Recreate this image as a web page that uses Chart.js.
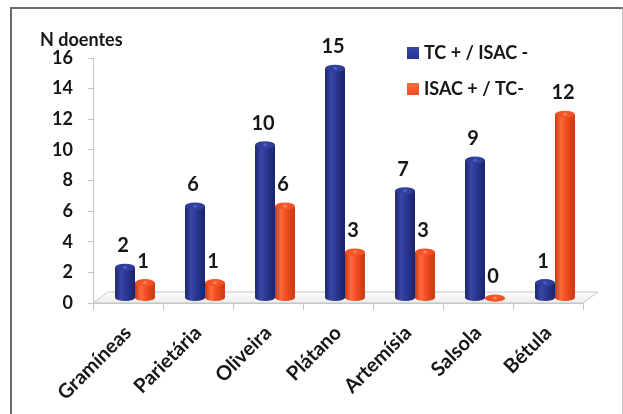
<!DOCTYPE html>
<html>
<head>
<meta charset="utf-8">
<script src="https://cdn.jsdelivr.net/npm/chart.js@4.4.1/dist/chart.umd.min.js"></script>
<style>
  html, body { margin: 0; padding: 0; background: #fff; overflow: hidden; }
  #wrap { position: relative; width: 623px; height: 414px; }
  #frame {
    position: absolute; left: 10px; top: 7px; width: 610px; height: 430px;
    border-left: 2px solid #6b6b6b; border-top: 2px solid #6b6b6b; border-right: 1px solid #c4c4c4;
  }
  canvas { position: absolute; left: 0; top: 0; }
</style>
</head>
<body>
<div id="wrap">
  <div id="frame"></div>
  <canvas id="chart" width="623" height="414"></canvas>
</div>
<script>
// Pollen allergens: patients positive on one test only
const categories = ['Gramíneas', 'Parietária', 'Oliveira', 'Plátano', 'Artemísia', 'Salsola', 'Bétula'];
const tcPosIsacNeg = [2, 6, 10, 15, 7, 9, 1];
const isacPosTcNeg = [1, 1, 6, 3, 3, 0, 12];
const seriesLabels = ['TC + / ISAC -', 'ISAC + / TC-'];
const yMin = 0;
const yMax = 16;
const yStep = 2;
const yAxisTitle = 'N doentes';

const FONT = 'Lato, "Open Sans", sans-serif';
const TEXT = '#161616';
const AXIS = '#c6c6c6';

// colour stops for the cylinder bodies
const palettes = [
  { edge: '#1a236a', light: '#3947a8', mid: '#2b3894', top: '#3442a2', hi: '#4f62c4', key: '#27348f' },
  { edge: '#c9380f', light: '#ff6a3a', mid: '#f04d22', top: '#f5582c', hi: '#ff8a5a', key: '#ef4c22' }
];

// 3D depth: bars stand in the middle of the floor slab
const DEPTH = { dx: 15, dy: -11 };
const BAR_SHIFT = { dx: 7, dy: -5 };

function drawCylinder(ctx, x, top, base, w, pal) {
  const rx = w / 2;
  const ry = 3.6;
  const g = ctx.createLinearGradient(x - rx, 0, x + rx, 0);
  g.addColorStop(0, pal.edge);
  g.addColorStop(0.3, pal.light);
  g.addColorStop(0.55, pal.mid);
  g.addColorStop(1, pal.edge);
  ctx.fillStyle = g;
  // body and rounded bottom
  ctx.beginPath();
  ctx.moveTo(x - rx, top);
  ctx.lineTo(x - rx, base);
  ctx.ellipse(x, base, rx, ry, 0, Math.PI, 0, true);
  ctx.lineTo(x + rx, top);
  ctx.closePath();
  ctx.fill();
  // top cap
  const tg = ctx.createLinearGradient(x - rx, 0, x + rx, 0);
  tg.addColorStop(0, pal.mid);
  tg.addColorStop(0.5, pal.top);
  tg.addColorStop(1, pal.mid);
  ctx.fillStyle = tg;
  ctx.beginPath();
  ctx.ellipse(x, top, rx, ry, 0, 0, Math.PI * 2);
  ctx.fill();
  ctx.fillStyle = pal.hi;
  ctx.beginPath();
  ctx.ellipse(x, top, rx * 0.18, ry * 0.35, 0, 0, Math.PI * 2);
  ctx.fill();
}

const cylinderPlugin = {
  id: 'cylinders',
  beforeDatasetsDraw(chart) {
    // floor slab
    const ctx = chart.ctx;
    const area = chart.chartArea;
    const y0 = chart.scales.y.getPixelForValue(0);
    ctx.save();
    ctx.beginPath();
    ctx.moveTo(area.left, y0);
    ctx.lineTo(area.right, y0);
    ctx.lineTo(area.right + DEPTH.dx, y0 + DEPTH.dy);
    ctx.lineTo(area.left + DEPTH.dx, y0 + DEPTH.dy);
    ctx.closePath();
    const fg = ctx.createLinearGradient(0, y0 + DEPTH.dy, 0, y0);
    fg.addColorStop(0, '#fdfdfd');
    fg.addColorStop(1, '#ececec');
    ctx.fillStyle = fg;
    ctx.fill();
    ctx.strokeStyle = AXIS;
    ctx.lineWidth = 1;
    ctx.stroke();
    ctx.restore();
  },
  beforeDatasetDraw() {
    return false;
  },
  afterDatasetsDraw(chart) {
    const ctx = chart.ctx;
    ctx.save();
    ctx.translate(BAR_SHIFT.dx, BAR_SHIFT.dy);
    chart.data.datasets.forEach((ds, i) => {
      const meta = chart.getDatasetMeta(i);
      meta.data.forEach((el, j) => {
        const p = el.getProps(['x', 'y', 'base', 'width'], true);
        drawCylinder(ctx, p.x, p.y, p.base, p.width, palettes[i]);
        ctx.fillStyle = TEXT;
        ctx.font = 'bold 20px ' + FONT;
        ctx.textAlign = 'center';
        ctx.textBaseline = 'alphabetic';
        ctx.fillText(String(ds.data[j]), p.x - 2, p.y - 15);
      });
    });
    ctx.restore();
  },
  afterDraw(chart) {
    const ctx = chart.ctx;
    const area = chart.chartArea;
    ctx.save();
    // axis title above the value axis
    ctx.fillStyle = TEXT;
    ctx.font = 'bold 18px ' + FONT;
    ctx.textAlign = 'left';
    ctx.textBaseline = 'middle';
    ctx.fillText(yAxisTitle, area.left - 53, area.top - 18);
    // legend
    chart.data.datasets.forEach((ds, i) => {
      const lx = area.right - 176;
      const ly = area.top - 11 + i * 36;
      const kg = ctx.createLinearGradient(0, ly, 0, ly + 12);
      kg.addColorStop(0, palettes[i].light);
      kg.addColorStop(1, palettes[i].key);
      ctx.fillStyle = kg;
      ctx.fillRect(lx, ly, 12, 12);
      ctx.fillStyle = TEXT;
      ctx.font = 'bold 18px ' + FONT;
      ctx.textBaseline = 'middle';
      ctx.fillText(ds.label, lx + 17, ly + 6);
    });
    ctx.restore();
  }
};

function build() {
  new Chart(document.getElementById('chart'), {
    type: 'bar',
    data: {
      labels: categories,
      datasets: [
        { label: seriesLabels[0], data: tcPosIsacNeg, backgroundColor: palettes[0].mid },
        { label: seriesLabels[1], data: isacPosTcNeg, backgroundColor: palettes[1].mid }
      ]
    },
    options: {
      responsive: false,
      animation: false,
      events: [],
      categoryPercentage: 0.57,
      barPercentage: 1.0,
      layout: { padding: { left: 53, top: 58, right: 40, bottom: 0 } },
      plugins: { legend: { display: false }, tooltip: { enabled: false } },
      scales: {
        x: {
          offset: true,
          grid: { offset: true, drawOnChartArea: false, drawTicks: true, tickLength: 7, color: AXIS },
          border: { display: true, color: AXIS },
          ticks: {
            autoSkip: false, maxRotation: 45, minRotation: 45, padding: 11,
            color: TEXT, font: { family: FONT, weight: 'bold', size: 20 }
          },
          afterFit(scale) { scale.height = 111; }
        },
        y: {
          min: yMin, max: yMax,
          grid: { drawOnChartArea: false, drawTicks: true, tickLength: 5, color: AXIS },
          border: { display: true, color: AXIS },
          ticks: {
            stepSize: yStep, padding: 15,
            color: TEXT, font: { family: FONT, weight: 'bold', size: 18 }
          },
          afterFit(scale) { scale.width = 40; }
        }
      }
    },
    plugins: [cylinderPlugin]
  });
}

if (document.fonts && document.fonts.load) {
  document.fonts.load('bold 17px Lato').then(build, build);
} else {
  build();
}
</script>
</body>
</html>
